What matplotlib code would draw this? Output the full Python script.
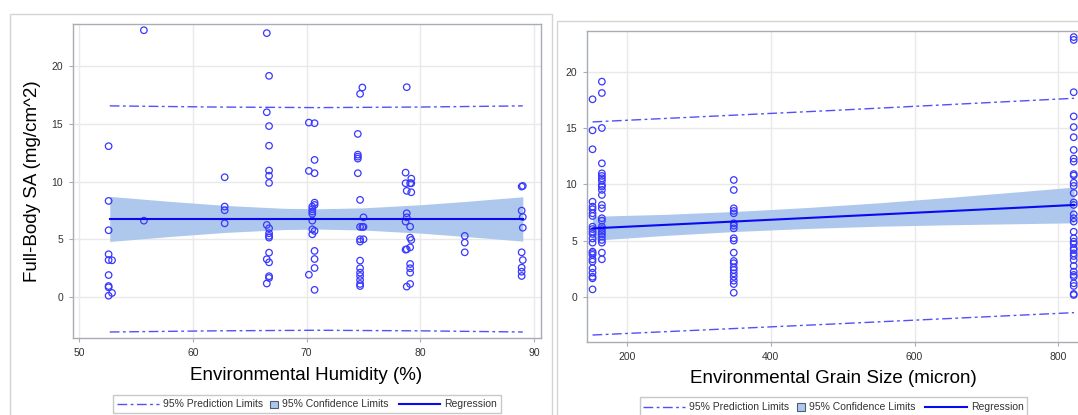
import numpy as np
import matplotlib.pyplot as plt
from matplotlib.lines import Line2D
from matplotlib.patches import Rectangle
from matplotlib.offsetbox import AnchoredOffsetbox, HPacker, DrawingArea, TextArea

plt.rcParams['font.family'] = ['Liberation Sans', 'DejaVu Sans']

W, H = 1078, 415

# --- humidity panel data ---
hum_x = ([52.6] * 9 + [52.9] * 2 + [55.7] * 2 + [62.8] * 4
         + [66.5] * 5 + [66.7] * 14
         + [70.2] * 3 + [70.5] * 7 + [70.7] * 10
         + [74.5] * 5 + [74.7] * 12 + [74.9] * 2 + [75.0] * 3
         + [78.7] * 4 + [78.8] * 6 + [79.1] * 8 + [79.2] * 4
         + [83.9] * 3 + [88.9] * 6 + [89.0] * 4)
hum_sa = [13.06, 8.32, 5.78, 3.7, 3.2, 1.9, 0.95, 0.84, 0.11, 3.18, 0.35,
          23.1, 6.61,
          10.37, 7.83, 7.51, 6.38,
          22.85, 16.0, 6.24, 3.27, 1.17,
          19.15, 14.8, 13.1, 10.95, 10.5, 9.88, 5.95, 5.52, 5.29, 5.14, 3.84, 3.0, 1.8, 1.65,
          15.1, 10.92, 1.93,
          7.83, 7.6, 7.4, 7.2, 6.61, 5.86, 5.43,
          15.05, 11.87, 10.72, 8.17, 7.97, 5.72, 3.99, 3.29, 2.51, 0.62,
          14.12, 12.33, 12.15, 11.98, 10.72,
          17.59, 8.41, 6.07, 5.0, 4.8, 3.15, 2.49, 2.11, 1.82, 1.47, 1.13, 0.95,
          18.14, 6.07,
          6.9, 6.07, 5.0,
          10.77, 9.85, 6.53, 4.1,
          18.17, 9.19, 7.25, 6.9, 4.13, 0.9,
          9.85, 6.09, 5.14, 4.3, 2.86, 2.49, 2.11, 1.13,
          10.25, 9.85, 9.07, 4.94,
          5.29, 4.71, 3.87,
          9.56, 7.48, 3.87, 2.54, 2.19, 1.82,
          9.62, 6.93, 6.0, 3.2]

hum_fit_x = [52.7, 58, 63, 68, 71, 75, 80, 84, 89]
hum_fit = [6.76] * 9
hum_cl_hi = [8.71, 8.28, 7.92, 7.68, 7.64, 7.72, 7.99, 8.28, 8.68]
hum_cl_lo = [4.81, 5.24, 5.60, 5.84, 5.88, 5.80, 5.53, 5.24, 4.84]
hum_pl_x = [52.7, 62, 71, 80, 89]
hum_pl_hi = [16.55, 16.45, 16.4, 16.45, 16.55]
hum_pl_lo = [-3.03, -2.93, -2.88, -2.93, -3.03]

# --- grain size panel data ---
grain_x = [152] * 24 + [165] * 25 + [348.5] * 20 + [821.5] * 36
grain_sa = [17.57, 14.81, 13.13, 8.47, 8.03, 7.8, 7.44, 7.2, 6.25, 6.04, 5.8, 5.6,
            5.2, 4.83, 4.03, 3.9, 3.75, 3.35, 3.14, 2.55, 2.16, 1.8, 1.66, 0.68,
            19.14, 18.13, 15.02, 11.88, 10.99, 10.76, 10.55, 10.31, 9.96, 9.81, 9.52,
            9.07, 8.18, 7.88, 7.0, 6.78, 6.25, 6.04, 5.8, 5.6, 5.36, 5.07, 4.83, 3.94, 3.35,
            10.4, 9.51, 7.88, 7.65, 7.44, 6.55, 6.34, 6.1, 5.22, 5.01, 3.94, 3.2, 3.0,
            2.63, 2.4, 2.1, 1.8, 1.45, 1.15, 0.38,
            23.1, 22.85, 18.2, 16.05, 15.1, 14.2, 13.07, 12.3, 12.03, 10.93, 10.8, 10.15,
            9.87, 9.24, 8.4, 8.18, 7.35, 7.0, 6.7, 5.8, 5.22, 4.92, 4.71, 4.33, 4.18,
            3.88, 3.64, 3.29, 2.76, 2.25, 1.96, 1.8, 1.22, 0.98, 0.27, 0.18]

grain_fit_x = [152, 250, 350, 450, 550, 650, 750, 822]
grain_fit = [6.10, 6.40, 6.71, 7.02, 7.33, 7.64, 7.95, 8.18]
grain_cl_hi = [7.17, 7.34, 7.60, 7.95, 8.37, 8.86, 9.38, 9.77]
grain_cl_lo = [5.03, 5.46, 5.82, 6.09, 6.29, 6.42, 6.52, 6.59]
grain_pl_x = [152, 487, 822]
grain_pl_hi = [15.56, 16.58, 17.66]
grain_pl_lo = [-3.38, -2.4, -1.39]

pt_col = '#3838ff'
reg_col = '#0a0aee'
pl_col = '#5050ff'
band_col = '#adc8ec'
dash = (0, (7, 2.5, 2, 2.5))
txt_col = '#333333'


def px_axes(l, t, r, b):
    return [l / W, 1 - b / H, (r - l) / W, (b - t) / H]


def draw_panel(ax, x, y, fx, fy, clo, chi, plx, plo, phi, xlim, ylim, xticks):
    ax.fill_between(fx, clo, chi, color=band_col, lw=0, zorder=1)
    ax.plot(plx, phi, color=pl_col, lw=1.0, ls=dash, zorder=2)
    ax.plot(plx, plo, color=pl_col, lw=1.0, ls=dash, zorder=2)
    ax.scatter(x, y, s=22, facecolors='none', edgecolors=pt_col, linewidths=0.9, zorder=3)
    ax.plot(fx, fy, color=reg_col, lw=1.5, zorder=4)
    ax.set_xlim(*xlim)
    ax.set_ylim(*ylim)
    ax.set_xticks(xticks)
    ax.set_yticks([0, 5, 10, 15, 20])
    ax.grid(True, color='#e9e9e9', lw=1.0, zorder=0)
    ax.set_axisbelow(True)
    for s in ax.spines.values():
        s.set_color('#a8adb3')
        s.set_linewidth(1.0)
    ax.tick_params(length=3, width=0.8, color='#a8adb3', labelsize=7.5,
                   labelcolor=txt_col, pad=4)


def add_legend(fig, cx, cy):
    d1 = DrawingArea(30, 8)
    d1.add_artist(Line2D([0, 30], [4, 4], color=pl_col, lw=1.0, ls=dash))
    t1 = TextArea('95% Prediction Limits', textprops=dict(size=7.5, color=txt_col))
    d2 = DrawingArea(8, 8)
    d2.add_artist(Rectangle((2.5, 1), 5.5, 5.5, facecolor=band_col, edgecolor='#4f5d70', lw=0.8))
    t2 = TextArea('95% Confidence Limits', textprops=dict(size=7.5, color=txt_col))
    d3 = DrawingArea(34, 8)
    d3.add_artist(Line2D([4, 34], [4, 4], color=reg_col, lw=1.5))
    t3 = TextArea('Regression', textprops=dict(size=7.5, color=txt_col))
    box = HPacker(children=[d1, t1, d2, t2, d3, t3], sep=3, align='center', pad=0)
    anch = AnchoredOffsetbox(loc='center', child=box, pad=0.25, borderpad=0,
                             bbox_to_anchor=(cx / W, 1 - cy / H),
                             bbox_transform=fig.transFigure, frameon=True)
    anch.patch.set_edgecolor('#c8c8c8')
    anch.patch.set_linewidth(1.0)
    anch.patch.set_boxstyle('square', pad=0)
    fig.add_artist(anch)


fig = plt.figure(figsize=(W / 100, H / 100), dpi=100)

# panel frames
fig.add_artist(Rectangle((9.5 / W, -0.05), (551.5 - 9.5) / W, 1.05 - 14.5 / H,
                         transform=fig.transFigure, fill=False, ec='#d4d4d4', lw=1.0))
fig.add_artist(Rectangle((556.5 / W, -0.05), 0.6, 1.05 - 21.5 / H,
                         transform=fig.transFigure, fill=False, ec='#d4d4d4', lw=1.0))

ax1 = fig.add_axes(px_axes(73, 24, 541, 338))
draw_panel(ax1, hum_x, hum_sa, hum_fit_x, hum_fit, hum_cl_lo, hum_cl_hi,
           hum_pl_x, hum_pl_lo, hum_pl_hi, (49.47, 90.6), (-3.55, 23.64),
           [50, 60, 70, 80, 90])

ax2 = fig.add_axes(px_axes(587, 31, 1087, 342))
draw_panel(ax2, grain_x, grain_sa, grain_fit_x, grain_fit, grain_cl_lo, grain_cl_hi,
           grain_pl_x, grain_pl_lo, grain_pl_hi, (144.3, 840), (-4.0, 23.64),
           [200, 400, 600, 800])

fig.text(306 / W, 1 - 375 / H, 'Environmental Humidity (%)', ha='center', va='center',
         size=13.5, color='black')
fig.text(833 / W, 1 - 378 / H, 'Environmental Grain Size (micron)', ha='center', va='center',
         size=13.5, color='black')
fig.text(33 / W, 1 - 181 / H, 'Full-Body SA (mg/cm^2)', ha='center', va='center',
         rotation=90, size=13.5, color='black')

add_legend(fig, 307, 404)
add_legend(fig, 833.5, 406.5)

fig.savefig('out.png', dpi=100)
